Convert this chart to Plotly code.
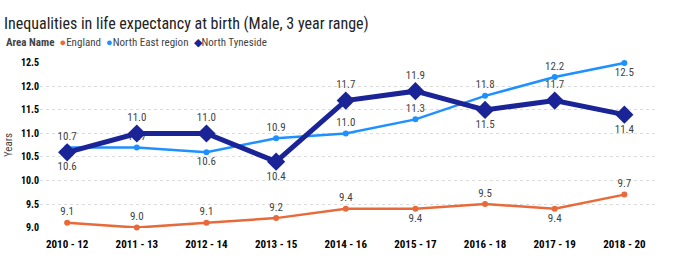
import plotly.graph_objects as go

periods = ['2010 - 12', '2011 - 13', '2012 - 14', '2013 - 15', '2014 - 16',
           '2015 - 17', '2016 - 18', '2017 - 19', '2018 - 20']
england = [9.1, 9.0, 9.1, 9.2, 9.4, 9.4, 9.5, 9.4, 9.7]
north_east = [10.7, 10.7, 10.6, 10.9, 11.0, 11.3, 11.8, 12.2, 12.5]
north_tyneside = [10.6, 11.0, 11.0, 10.4, 11.7, 11.9, 11.5, 11.7, 11.4]

eng_pos = ['top center'] * 9
eng_pos[5] = 'bottom center'
eng_pos[7] = 'bottom center'
ne_pos = ['top center'] * 9
ne_pos[2] = 'bottom center'
ne_pos[8] = 'bottom center'
nt_pos = ['top center'] * 9
for i in (0, 3, 6, 8):
    nt_pos[i] = 'bottom center'

c_eng = 'rgb(232,106,58)'
c_ne = 'rgb(30,144,255)'
c_nt = 'rgb(26,36,150)'
FONT = 'Roboto Condensed, Arial'
lab_font = dict(family=FONT, size=11, color='rgb(68,68,68)')

x = list(range(len(periods)))

fig = go.Figure()
fig.add_trace(go.Scatter(x=x, y=england, mode='lines+markers+text',
                         line=dict(color=c_eng, width=2.5),
                         marker=dict(color=c_eng, size=6),
                         text=['%.1f' % v for v in england], textposition=eng_pos,
                         textfont=lab_font, cliponaxis=False, showlegend=False))
fig.add_trace(go.Scatter(x=x, y=north_east, mode='lines+markers+text',
                         line=dict(color=c_ne, width=2.5),
                         marker=dict(color=c_ne, size=6),
                         text=['%.1f' % v for v in north_east], textposition=ne_pos,
                         textfont=lab_font, cliponaxis=False, showlegend=False))
fig.add_trace(go.Scatter(x=x, y=north_tyneside, mode='lines+markers+text',
                         line=dict(color=c_nt, width=5),
                         marker=dict(color=c_nt, size=14, symbol='diamond'),
                         text=['%.1f' % v for v in north_tyneside], textposition=nt_pos,
                         textfont=lab_font, cliponaxis=False, showlegend=False))

legend_text = ('<b>Area Name</b>&nbsp; '
               '<span style="color:%s">●</span>England&nbsp; '
               '<span style="color:%s">●</span>North East region&nbsp; '
               '<span style="color:%s">◆</span>North Tyneside') % (c_eng, c_ne, c_nt)

fig.update_layout(
    width=673, height=262,
    margin=dict(l=40, r=18, t=62, b=34, autoexpand=False),
    plot_bgcolor='white', paper_bgcolor='white',
    showlegend=False,
    title=dict(text='Inequalities in life expectancy at birth (Male, 3 year range)',
               x=4 / 673, xanchor='left', y=1 - 23 / 262, yanchor='middle',
               font=dict(family=FONT, size=16, color='rgb(34,34,34)')),
    annotations=[dict(xref='paper', yref='paper', x=-36 / 615, y=1 + 19 / 166,
                      xanchor='left', yanchor='middle', showarrow=False,
                      text=legend_text,
                      font=dict(family=FONT, size=11, color='rgb(68,68,68)'))],
    xaxis=dict(range=[-0.39, 8.44], tickvals=x, ticktext=['<b>%s</b>' % p for p in periods],
               showgrid=False, zeroline=False, showline=False, ticks='',
               ticklabelstandoff=8,
               tickfont=dict(family=FONT, size=11, color='black')),
    yaxis=dict(range=[8.99, 12.52], tickvals=[9.0, 9.5, 10.0, 10.5, 11.0, 11.5, 12.0, 12.5],
               ticktext=['<b>%.1f</b>' % v for v in [9.0, 9.5, 10.0, 10.5, 11.0, 11.5, 12.0, 12.5]],
               showgrid=True, gridcolor='rgb(220,220,220)', griddash='dot', gridwidth=1,
               zeroline=False, showline=False,
               tickfont=dict(family=FONT, size=10, color='black'),
               title=dict(text='Years', font=dict(family=FONT, size=11, color='rgb(68,68,68)'),
                          standoff=6)),
)

fig.write_html('out.html', post_script="document.body.style.margin='0';",
               config={'displayModeBar': False})
